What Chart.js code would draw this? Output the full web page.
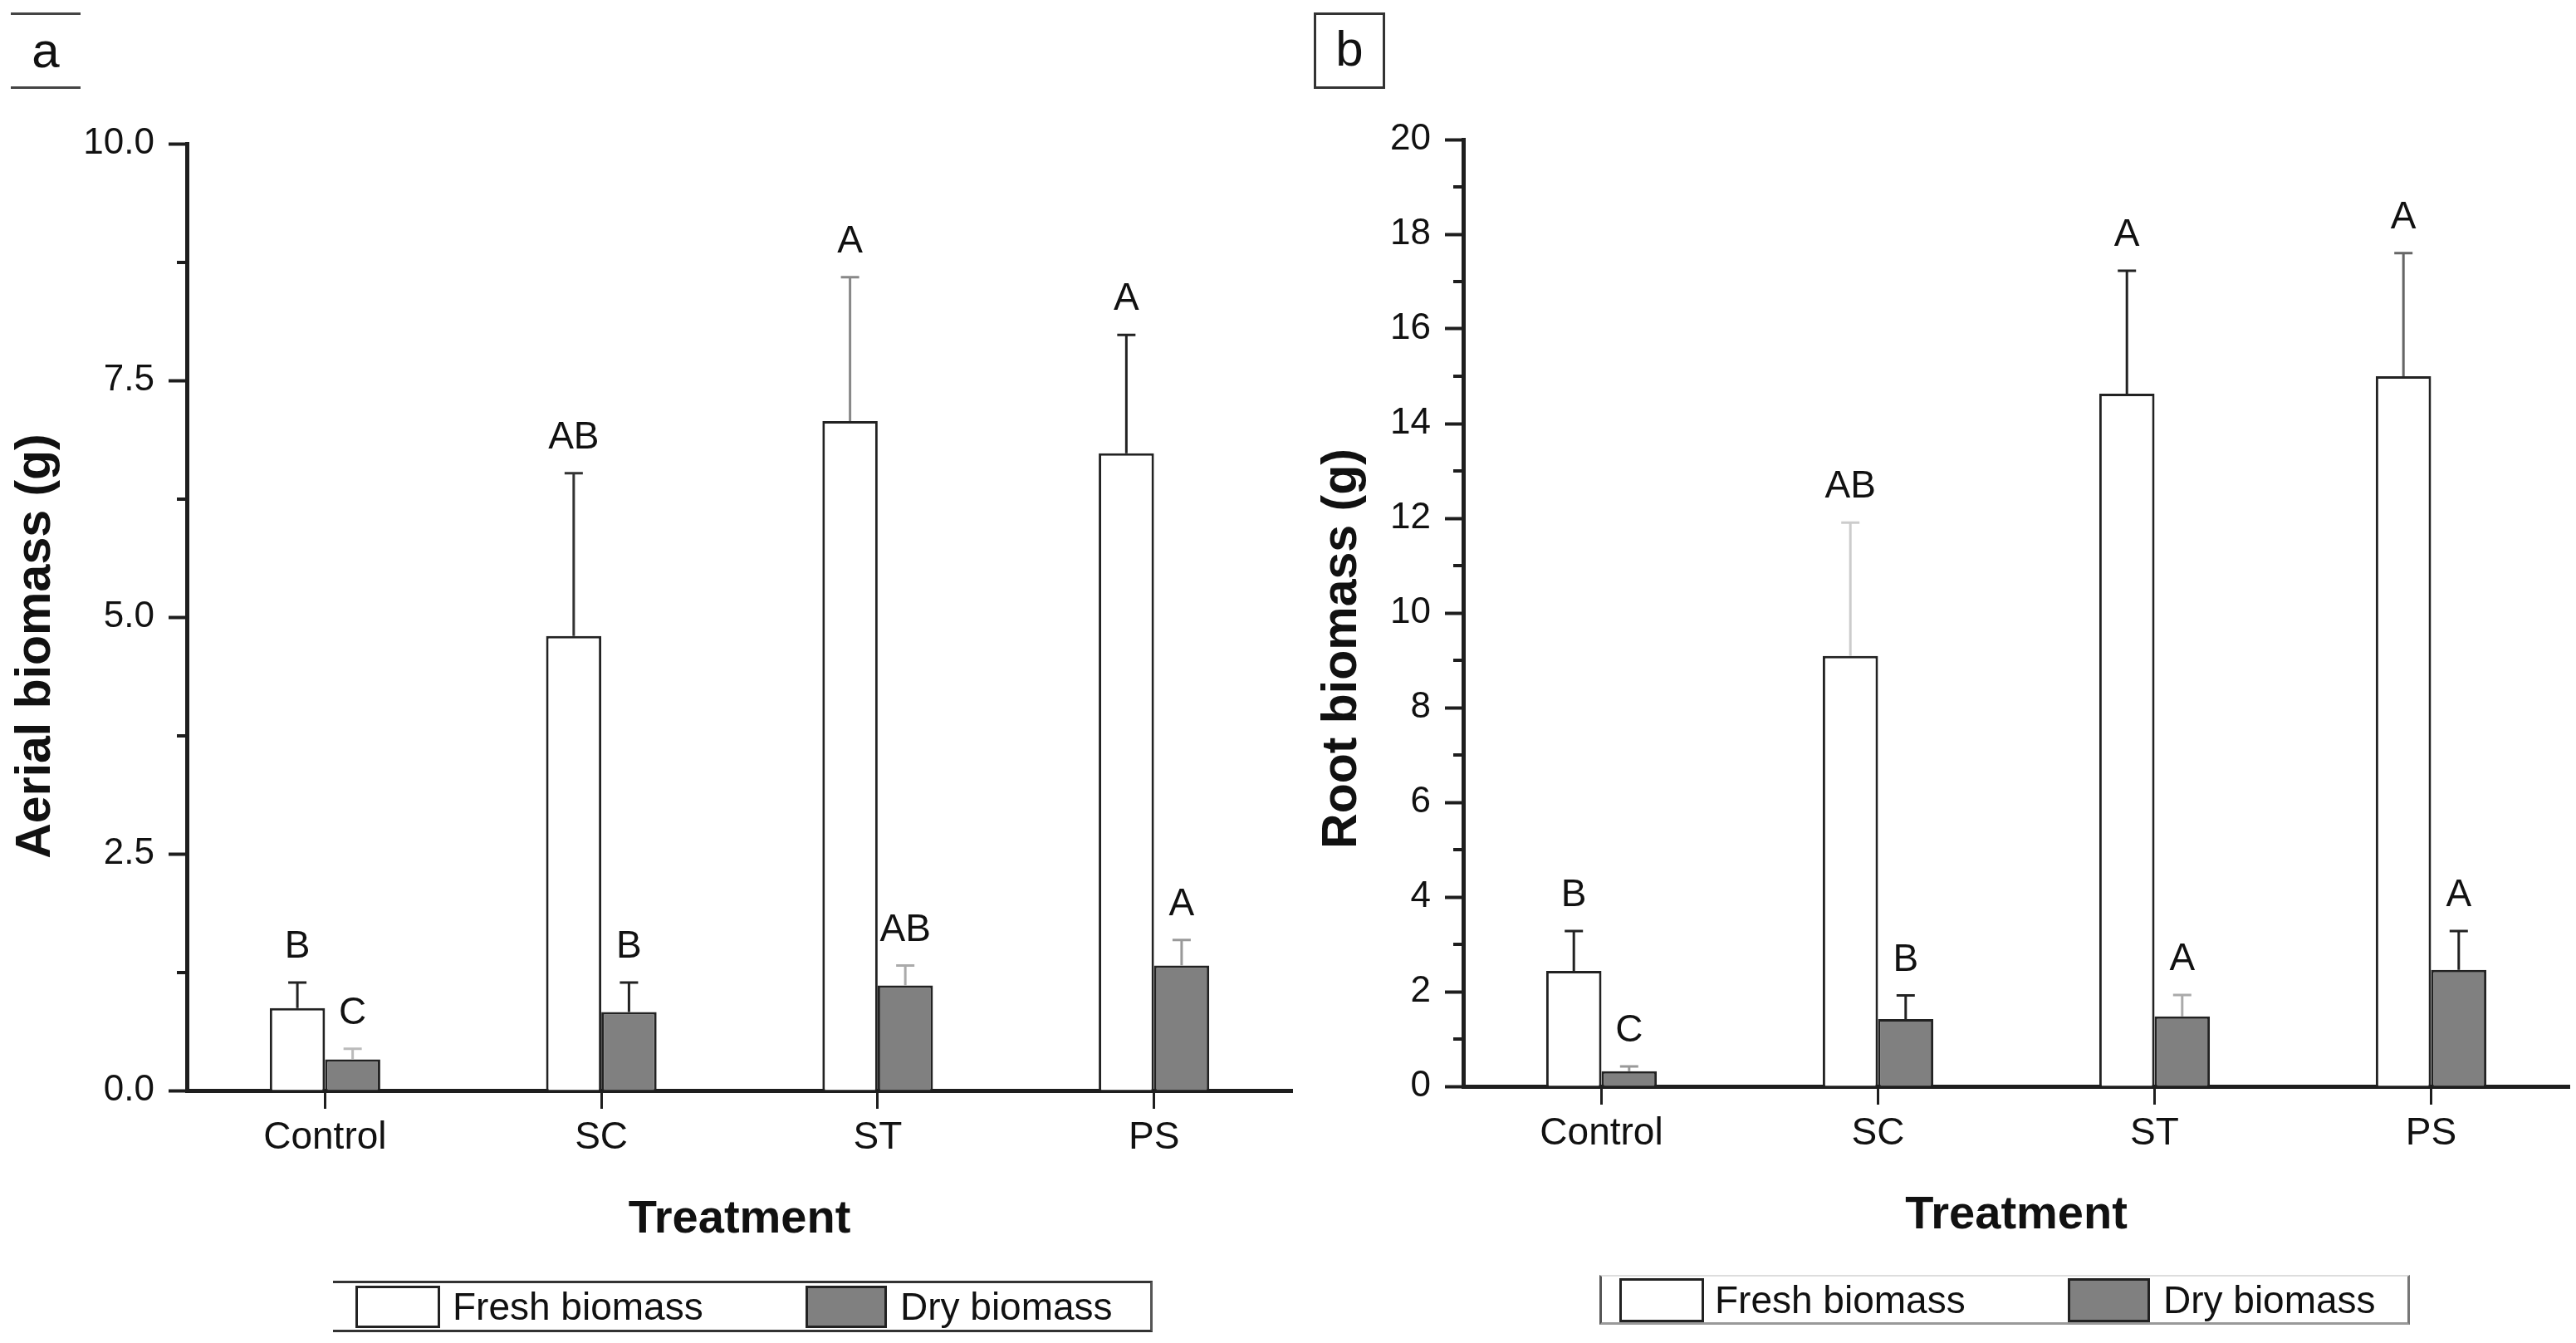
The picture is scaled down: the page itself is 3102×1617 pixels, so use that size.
<!DOCTYPE html>
<html>
<head>
<meta charset="utf-8">
<title>Aerial and root biomass</title>
<script src="https://cdn.jsdelivr.net/npm/chart.js@4.4.0/dist/chart.umd.min.js"></script>
<style>
  body { margin: 0; background: #fff; width: 3102px; height: 1617px; position: relative; overflow: hidden;
         font-family: "Liberation Sans", Arial, sans-serif; color: #111; }
  canvas { position: absolute; top: 0; display: block; }
  #chartA { left: 0; }
  #chartB { left: 1560px; }
  .tag { position: absolute; box-sizing: border-box; }
  .tag span { position: absolute; left: 0; right: 0; text-align: center; font-size: 60px; line-height: 60px; }
  .legend { position: absolute; box-sizing: border-box; }
  .legend .sw { position: absolute; box-sizing: border-box; border: 3px solid #222; }
  .legend .tx { position: absolute; font-size: 46px; white-space: nowrap; }
</style>
</head>
<body>
<canvas id="chartA" width="1560" height="1617"></canvas>
<canvas id="chartB" width="1542" height="1617"></canvas>

<div class="tag" style="left:13px;top:15px;width:84px;height:92px;border-top:3px solid #444;border-bottom:3px solid #444;">
  <span style="top:13px;">a</span>
</div>
<div class="tag" style="left:1582px;top:15px;width:86px;height:92px;border:3px solid #333;">
  <span style="top:11px;">b</span>
</div>

<div class="legend" style="left:401px;top:1542px;width:987px;height:62px;border-top:3px solid #333;border-bottom:3px solid #333;border-right:3px solid #555;">
  <div class="sw" style="left:27px;top:3px;width:102px;height:51px;background:#fff;"></div>
  <div class="tx" style="left:144px;top:0;line-height:56px;">Fresh biomass</div>
  <div class="sw" style="left:569px;top:3px;width:98px;height:51px;background:#808080;"></div>
  <div class="tx" style="left:683px;top:0;line-height:56px;">Dry biomass</div>
</div>
<div class="legend" style="left:1926px;top:1535px;width:976px;height:60px;border-left:3px solid #555;border-right:3px solid #777;border-top:2px solid #ddd;border-bottom:3px solid #999;">
  <div class="sw" style="left:21px;top:2px;width:102px;height:53px;background:#fff;"></div>
  <div class="tx" style="left:136px;top:0;line-height:56px;">Fresh biomass</div>
  <div class="sw" style="left:561px;top:2px;width:99px;height:53px;background:#808080;"></div>
  <div class="tx" style="left:676px;top:0;line-height:56px;">Dry biomass</div>
</div>

<script>
// valores
const categories = ['Control', 'SC', 'ST', 'PS'];

const aerialFresh = [0.87, 4.80, 7.07, 6.73];
const aerialFreshErr = [0.27, 1.72, 1.52, 1.25];
const aerialDry = [0.33, 0.83, 1.11, 1.32];
const aerialDryErr = [0.11, 0.31, 0.21, 0.27];
const aerialFreshLetters = ['B', 'AB', 'A', 'A'];
const aerialDryLetters = ['C', 'B', 'AB', 'A'];

const rootFresh = [2.44, 9.09, 14.63, 15.0];
const rootFreshErr = [0.84, 2.82, 2.60, 2.60];
const rootDry = [0.32, 1.42, 1.48, 2.46];
const rootDryErr = [0.10, 0.50, 0.45, 0.82];
const rootFreshLetters = ['B', 'AB', 'A', 'A'];
const rootDryLetters = ['C', 'B', 'A', 'A'];

const aerialAxis = { max: 10, step: 2.5, decimals: 1 };
const rootAxis = { max: 20, step: 2, decimals: 0 };

const FONT = '"Liberation Sans", Arial, sans-serif';
const INK = '#1e1e1e';

// cores das barras de erro (no original algumas saem cinza claro)
const errColorsA = { fresh: ['#222', '#333', '#888', '#222'], dry: ['#bbb', '#222', '#aaa', '#999'] };
const errColorsB = { fresh: ['#222', '#ccc', '#222', '#666'], dry: ['#999', '#222', '#aaa', '#222'] };

// barras de erro + letras de significância
const errorBars = {
  id: 'errorBars',
  afterDatasetsDraw(chart) {
    const ctx = chart.ctx;
    const yScale = chart.scales.y;
    chart.data.datasets.forEach((ds, i) => {
      const meta = chart.getDatasetMeta(i);
      meta.data.forEach((bar, j) => {
        const top = yScale.getPixelForValue(ds.data[j] + ds.err[j]);
        ctx.save();
        ctx.strokeStyle = ds.errColors[j];
        ctx.lineWidth = 3;
        ctx.beginPath();
        ctx.moveTo(bar.x, bar.y);
        ctx.lineTo(bar.x, top);
        ctx.moveTo(bar.x - 11, top);
        ctx.lineTo(bar.x + 11, top);
        ctx.stroke();
        ctx.fillStyle = '#111';
        ctx.font = '46px ' + FONT;
        ctx.textAlign = 'center';
        ctx.textBaseline = 'alphabetic';
        ctx.fillText(ds.letters[j], bar.x, top - 30);
        ctx.restore();
      });
    });
  }
};

// ticks menores no eixo y e título do eixo y
const axisExtras = {
  id: 'axisExtras',
  afterDraw(chart, args, opts) {
    const ctx = chart.ctx;
    const yScale = chart.scales.y;
    const left = chart.chartArea.left;
    const ticks = yScale.ticks;
    ctx.save();
    ctx.strokeStyle = INK;
    ctx.lineWidth = 4;
    ctx.beginPath();
    for (let k = 0; k < ticks.length - 1; k++) {
      const py = Math.round(yScale.getPixelForValue((ticks[k].value + ticks[k + 1].value) / 2));
      ctx.moveTo(left - 12, py);
      ctx.lineTo(left, py);
    }
    ctx.stroke();

    ctx.translate(opts.x, opts.y);
    ctx.rotate(-Math.PI / 2);
    ctx.fillStyle = '#111';
    ctx.font = 'bold 59px ' + FONT;
    ctx.textAlign = 'center';
    ctx.textBaseline = 'middle';
    ctx.fillText(opts.text, 0, 0);
    ctx.restore();
  }
};

function criarGrafico(id, fresh, freshErr, freshLetters, dry, dryErr, dryLetters, errColors, axis, box) {
  const el = document.getElementById(id);
  return new Chart(el.getContext('2d'), {
    type: 'bar',
    data: {
      labels: categories,
      datasets: [
        {
          label: 'Fresh biomass',
          data: fresh,
          err: freshErr,
          letters: freshLetters,
          errColors: errColors.fresh,
          backgroundColor: '#ffffff',
          borderColor: '#222',
          borderWidth: 3,
          categoryPercentage: 0.4,
          barPercentage: 1.0
        },
        {
          label: 'Dry biomass',
          data: dry,
          err: dryErr,
          letters: dryLetters,
          errColors: errColors.dry,
          backgroundColor: '#808080',
          borderColor: '#222',
          borderWidth: 3,
          categoryPercentage: 0.4,
          barPercentage: 1.0
        }
      ]
    },
    options: {
      responsive: false,
      animation: false,
      events: [],
      layout: { padding: { left: 0, top: box.top, right: box.right, bottom: box.bottom } },
      plugins: {
        legend: { display: false },
        tooltip: { enabled: false },
        axisExtras: { text: box.title, x: box.titleX, y: box.titleY }
      },
      scales: {
        x: {
          z: 1,
          offset: true,
          grid: { display: true, offset: false, drawOnChartArea: false, drawTicks: true,
                  tickLength: 22, tickWidth: 3, tickColor: INK },
          border: { display: true, color: INK, width: 5 },
          ticks: { color: '#111', font: { family: FONT, size: 46 }, padding: 8, maxRotation: 0 },
          title: { display: true, text: 'Treatment', color: '#111',
                   font: { family: FONT, size: 56, weight: 'bold' }, padding: { top: 0, bottom: 11 } },
          afterFit: s => { s.height = 200; }
        },
        y: {
          z: 1,
          min: 0,
          max: axis.max,
          grid: { display: true, drawOnChartArea: false, drawTicks: true,
                  tickLength: 22, tickWidth: 4, tickColor: INK },
          border: { display: true, color: INK, width: 5 },
          ticks: {
            stepSize: axis.step,
            color: '#111',
            font: { family: FONT, size: 44 },
            padding: 17,
            callback: v => Number(v).toFixed(axis.decimals)
          },
          afterFit: s => { s.width = box.yWidth; }
        }
      }
    },
    plugins: [errorBars, axisExtras]
  });
}

criarGrafico('chartA', aerialFresh, aerialFreshErr, aerialFreshLetters,
  aerialDry, aerialDryErr, aerialDryLetters, errColorsA, aerialAxis,
  { top: 173, right: 4, bottom: 1617 - 1313 - 200, yWidth: 225,
    title: 'Aerial biomass (g)', titleX: 44, titleY: 778 });

criarGrafico('chartB', rootFresh, rootFreshErr, rootFreshLetters,
  rootDry, rootDryErr, rootDryLetters, errColorsB, rootAxis,
  { top: 168, right: 8, bottom: 1617 - 1308 - 200, yWidth: 202,
    title: 'Root biomass (g)', titleX: 57, titleY: 781 });
</script>
</body>
</html>
